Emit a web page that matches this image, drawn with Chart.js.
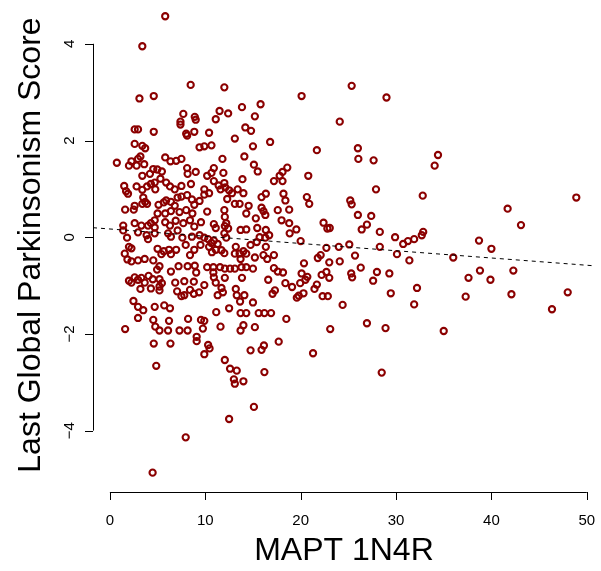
<!DOCTYPE html>
<html>
<head>
<meta charset="utf-8">
<script src="https://cdn.jsdelivr.net/npm/chart.js@4.4.1/dist/chart.umd.min.js"></script>
<style>
  html, body { margin: 0; padding: 0; background: #fff; }
  canvas { display: block; }
</style>
</head>
<body>
<canvas id="scatter" width="601" height="571"></canvas>
<script>
// axis labels and ticks
const xTitle = "MAPT 1N4R";
const yTitle = "Last Global Parkinsonism Score";
const xTicks = [0, 10, 20, 30, 40, 50];
const yTicks = [-4, -2, 0, 2, 4];

// axis limits (R pads the data range by 4%)
const xLimits = [-1.77, 50.85];
const yLimits = [-5.27, 4.78];

// dashed fit line
const fitIntercept = 0.17;
const fitSlope = -0.015;

// MAPT 1N4R values
const xValues = [
  5.8, 3.4, 8.47, 3.1, 4.6, 7.7, 7.4, 8.9, 9.0, 2.6, 2.95, 4.6, 8.0, 8.85,
  12.0, 20.1, 11.5, 12.4, 13.85, 15.8, 11.1, 15.2, 10.4, 14.2, 14.8,
  7.4, 8.1, 2.6, 3.4, 3.7, 9.4, 0.73, 2.0, 2.26, 2.95, 3.2, 2.8, 3.6, 5.8, 6.35, 6.95, 7.5,
  4.55, 4.97, 5.45, 8.1, 8.15, 9.0, 3.4, 4.2, 5.3, 5.9, 4.7, 1.5, 1.7, 1.9, 2.8, 3.4, 3.9,
  4.3, 4.76, 6.3, 6.8, 7.5, 8.5, 3.5, 3.7, 3.4, 3.9, 2.6, 2.5, 1.6, 5.1, 5.65, 5.9, 6.4,
  6.8, 7.1, 7.5, 8.1, 8.6, 8.85, 9.4, 5.0, 5.8, 6.4, 7.3, 8.0, 8.65, 4.3, 4.7, 4.0, 3.3,
  2.6, 1.4, 5.8, 6.3, 6.9, 7.7, 8.4, 8.85, 9.55,
  13.1, 16.8, 9.9, 10.65, 15.0, 14.1, 11.8, 15.1, 15.5, 18.6, 18.1, 17.8, 10.9, 10.65,
  10.2, 11.9, 17.2, 18.1, 13.9, 10.9, 11.4, 11.6, 12.0, 12.1, 9.9, 10.4, 9.9, 12.5, 12.8,
  13.4, 14.0, 12.3, 13.1, 13.6, 15.9, 16.35, 18.2, 18.4, 14.55, 15.9, 16.1, 16.3, 17.6,
  18.8, 10.2, 12.0, 12.05, 12.2, 12.4, 14.3, 15.3, 18.0, 18.8, 19.55, 10.9, 11.1, 13.7,
  14.3, 15.45, 16.35,
  1.4, 1.8, 2.95, 3.85, 4.0, 4.7, 4.7, 6.1, 6.4, 7.1, 7.6, 8.6, 9.4, 2.0, 2.26, 1.56, 1.84,
  2.26, 2.95, 3.65, 4.55, 5.0, 5.4, 5.65, 6.2, 6.4, 6.95, 7.95, 8.4, 8.85, 9.5, 5.2, 4.95,
  7.2, 8.15, 8.9, 9.05, 6.4, 2.0, 2.26, 2.6, 2.95, 3.3, 3.65, 4.06, 4.5, 5.2, 5.45, 5.2,
  6.85, 7.8, 8.8, 3.2, 4.3, 5.2, 7.05, 7.5, 7.8, 8.4, 8.8, 9.35, 2.47, 2.95, 3.5, 4.7, 5.7,
  6.3, 2.95, 4.55, 4.76, 6.2, 8.2, 9.55, 1.6, 5.2, 6.1, 7.3, 8.15,
  9.1, 9.1, 9.75, 4.6, 6.35, 9.9, 4.86, 7.95, 4.48,
  11.6, 13.7, 14.0, 15.2, 10.3, 10.45, 14.75, 15.9, 16.15, 17.7, 12.05, 12.6, 13.3, 13.0,
  13.1, 14.0, 16.2, 15.1, 12.5,
  12.05, 18.85, 9.9, 10.3, 10.65, 10.9, 11.3, 10.4, 11.1, 10.7, 11.7, 12.0, 12.2, 12.0,
  13.2, 13.1, 13.6, 14.0, 14.3, 13.7, 14.75, 15.4, 15.7, 16.3, 16.7, 16.35, 16.1, 16.5,
  17.2, 15.2, 10.2, 10.85, 11.55, 12.05, 12.6, 13.1, 13.8, 14.3, 15.0, 10.85, 10.9, 11.1,
  12.05, 13.85, 17.2, 17.6, 18.15, 18.4, 19.1, 19.8, 16.6, 9.9, 11.7, 11.85, 11.3, 13.2,
  13.3, 14.1, 13.65, 15.0, 17.3, 17.05, 19.95, 19.6, 12.5, 11.15, 13.7, 14.3, 15.6, 16.2,
  16.9, 18.5, 9.9,
  25.35, 29.0, 24.1, 21.7, 26.0, 26.05, 27.65, 34.4, 34.05, 20.8, 27.9, 20.65, 20.9, 25.2,
  25.35, 32.8, 26.0, 27.4, 22.4, 22.8, 23.05, 26.4, 26.95, 28.3, 32.85,
  29.9, 30.75, 31.25, 31.9, 32.7, 20.0, 22.7, 24.0, 25.1, 28.3, 30.1, 31.4, 22.1, 21.8,
  25.7, 23.0, 24.1, 20.35, 26.3, 20.1, 20.7, 20.5, 22.2, 22.7, 23.0, 25.3, 25.4, 28.0,
  27.6, 29.3, 21.7, 21.45, 32.2, 20.3, 22.3, 22.85, 29.45, 24.4, 31.9, 26.95, 28.9, 23.1,
  35.0, 21.3, 28.5,
  48.9, 41.7, 43.1, 38.7, 40.0, 36.0, 37.6, 38.8, 39.9, 42.3, 37.3, 42.1, 48.0, 46.35
];

// Last Global Parkinsonism Score values, same order
const yValues = [
  4.57, 3.95, 3.15, 2.87, 2.92, 2.55, 2.39, 2.49, 2.43, 2.23, 2.23, 2.18, 2.14, 2.18,
  3.10, 2.92, 2.61, 2.56, 2.69, 2.75, 2.44, 2.50, 2.16, 2.27, 2.20,
  2.33, 2.10, 1.93, 1.89, 1.84, 1.86, 1.54, 1.48, 1.57, 1.62, 1.67, 1.48, 1.51, 1.65, 1.57, 1.58, 1.62,
  1.41, 1.40, 1.36, 1.43, 1.31, 1.35, 1.27, 1.31, 1.21, 1.13, 1.13, 1.06, 0.95, 0.90, 1.05, 0.98, 1.05,
  1.10, 0.99, 1.05, 0.99, 1.06, 1.10, 0.82, 0.73, 0.69, 0.69, 0.65, 0.57, 0.57, 0.67, 0.72, 0.76, 0.73,
  0.65, 0.82, 0.84, 0.87, 0.78, 0.67, 0.75, 0.49, 0.49, 0.54, 0.52, 0.56, 0.49, 0.29, 0.35, 0.24, 0.24,
  0.29, 0.24, 0.31, 0.24, 0.34, 0.29, 0.35, 0.22, 0.31,
  2.04, 1.97, 1.88, 1.90, 1.88, 1.67, 1.62, 1.50, 1.36, 1.44, 1.35, 1.27, 1.43, 1.33,
  1.27, 1.33, 1.16, 1.16, 1.20, 1.16, 1.07, 0.99, 1.12, 1.03, 0.99, 0.91, 0.88, 0.97, 0.91,
  0.99, 0.91, 0.79, 0.69, 0.69, 0.83, 0.90, 0.90, 0.76, 0.65, 0.61, 0.54, 0.46, 0.56,
  0.57, 0.53, 0.56, 0.42, 0.29, 0.18, 0.49, 0.39, 0.35, 0.29, 0.16, 0.27, 0.19, 0.15,
  0.16, 0.19, 0.15,
  0.14, -0.01, 0.10, 0.04, -0.04, 0.20, 0.08, 0.08, 0.01, 0.14, -0.01, 0.01, 0.04, -0.20, -0.23, -0.34, -0.46,
  -0.50, -0.48, -0.45, -0.48, -0.24, -0.35, -0.29, -0.26, -0.35, -0.26, -0.16, -0.37, -0.26, -0.16, -0.60, -0.67,
  -0.60, -0.60, -0.59, -0.73, -0.71, -0.90, -0.94, -0.83, -0.88, -0.84, -0.94, -0.80, -0.87, -0.87, -0.95, -1.02,
  -0.94, -0.91, -0.92, -1.07, -1.06, -1.10, -1.12, -1.22, -1.20, -1.09, -1.17, -1.14, -1.32, -1.44, -1.51, -1.44, -1.41,
  -1.47, -1.67, -1.71, -1.85, -1.73, -1.69, -1.71, -1.90, -1.93, -1.93, -1.93, -1.93,
  -2.06, -2.15, -1.89, -2.20, -2.20, -2.42, -2.66, -4.14, -4.87,
  -1.85, -1.93, -1.82, -1.86, -2.23, -2.30, -2.34, -2.33, -2.24, -2.16, -2.54, -2.72, -2.76, -2.94,
  -3.03, -2.98, -2.79, -3.51, -3.76,
  0.23, 0.08, -0.01, -0.04, -0.12, -0.07, -0.14, -0.20, -0.26, -0.31, -0.27, -0.33, -0.01, 0.08,
  -0.20, -0.34, -0.34, -0.29, -0.34, -0.45, -0.16, -0.10, 0.00, -0.01, 0.04, -0.20, -0.37, -0.45,
  -0.37, -0.42, -0.62, -0.62, -0.62, -0.65, -0.65, -0.65, -0.62, -0.62, -0.65, -0.73, -0.83, -0.94,
  -0.84, -0.84, -0.64, -0.71, -0.73, -0.95, -1.03, -1.21, -0.88, -0.99, -1.05, -1.14, -1.20, -1.07,
  -1.20, -1.20, -1.33, -1.35, -1.10, -1.17, -0.95, -1.25, -1.47, -1.55, -1.57, -1.57, -1.57, -1.57,
  -1.57, -1.69, -1.73,
  3.13, 2.89, 2.39, 1.80, 1.84, 1.62, 1.59, 1.70, 1.48, 1.27, 0.99, 0.83, 0.69, 0.76,
  0.68, 0.86, 0.46, 0.44, 0.30, 0.18, 0.19, 0.16, 0.26, 0.11, 0.11,
  0.00, -0.14, -0.08, -0.04, 0.04, -0.08, -0.22, -0.20, -0.15, -0.20, -0.35, -0.48, -0.37, -0.43,
  -0.38, -0.52, -0.50, -0.54, -0.63, -0.75, -0.82, -0.88, -0.78, -0.72, -0.84, -0.75, -0.83, -0.72,
  -0.90, -0.75, -0.98, -1.07, -1.05, -1.16, -1.22, -1.22, -1.16, -1.40, -1.39, -1.78, -1.88, -1.90,
  -1.94, -2.40, -2.80,
  0.82, 0.59, 0.25, -0.07, -0.24, -0.42, -0.84, -0.69, -0.88, -0.69, -1.23, -1.18, -1.14, -1.49
];

const points = xValues.map((x, i) => ({ x: x, y: yValues[i] }));
const fitLine = xLimits.map(x => ({ x: x, y: fitIntercept + fitSlope * x }));

function tickText(v) {
  return v < 0 ? "\u2212" + Math.abs(v) : String(v);
}

// R style axes: lines only over the tick range, with outward ticks
const rAxes = {
  id: "rAxes",
  afterDraw(chart) {
    const ctx = chart.ctx;
    const xs = chart.scales.x;
    const ys = chart.scales.y;
    const area = chart.chartArea;
    const axisY = area.bottom;
    const axisX = area.left;

    ctx.save();
    ctx.strokeStyle = "#000";
    ctx.lineWidth = 1;
    ctx.fillStyle = "#000";

    // x axis
    const x0 = xs.getPixelForValue(xTicks[0]);
    const x1 = xs.getPixelForValue(xTicks[xTicks.length - 1]);
    ctx.beginPath();
    ctx.moveTo(x0, axisY + 0.5);
    ctx.lineTo(x1, axisY + 0.5);
    xTicks.forEach(v => {
      const px = Math.round(xs.getPixelForValue(v)) + 0.5;
      ctx.moveTo(px, axisY);
      ctx.lineTo(px, axisY + 8);
    });
    ctx.stroke();

    ctx.font = "15px 'Liberation Sans', Arial, sans-serif";
    ctx.textAlign = "center";
    ctx.textBaseline = "middle";
    xTicks.forEach(v => {
      ctx.fillText(tickText(v), xs.getPixelForValue(v), axisY + 29);
    });

    // y axis
    const y0 = ys.getPixelForValue(yTicks[0]);
    const y1 = ys.getPixelForValue(yTicks[yTicks.length - 1]);
    ctx.beginPath();
    ctx.moveTo(axisX + 0.5, y0);
    ctx.lineTo(axisX + 0.5, y1);
    yTicks.forEach(v => {
      const py = Math.round(ys.getPixelForValue(v)) + 0.5;
      ctx.moveTo(axisX, py);
      ctx.lineTo(axisX - 8, py);
    });
    ctx.stroke();

    yTicks.forEach(v => {
      ctx.save();
      ctx.translate(axisX - 23, ys.getPixelForValue(v));
      ctx.rotate(-Math.PI / 2);
      ctx.fillText(tickText(v), 0, 0);
      ctx.restore();
    });

    // axis titles
    ctx.font = "32px 'Liberation Sans', Arial, sans-serif";
    ctx.fillText(xTitle, (area.left + area.right) / 2, axisY + 59);
    ctx.save();
    ctx.translate(31, (area.top + area.bottom) / 2 - 4);
    ctx.rotate(-Math.PI / 2);
    ctx.fillText(yTitle, 0, 0);
    ctx.restore();

    ctx.restore();
  }
};

new Chart(document.getElementById("scatter"), {
  type: "scatter",
  data: {
    datasets: [
      {
        type: "line",
        data: fitLine,
        borderColor: "#000",
        borderWidth: 1,
        borderDash: [4, 4],
        pointRadius: 0,
        fill: false
      },
      {
        data: points,
        pointStyle: "circle",
        pointRadius: 3.1,
        pointBorderWidth: 2.1,
        pointBorderColor: "#8b0000",
        pointBackgroundColor: "rgba(0,0,0,0)",
        showLine: false
      }
    ]
  },
  options: {
    responsive: false,
    animation: false,
    devicePixelRatio: 1,
    layout: { padding: { left: 93, right: 3, top: 0, bottom: 79 } },
    scales: {
      x: { type: "linear", min: xLimits[0], max: xLimits[1], display: false },
      y: { type: "linear", min: yLimits[0], max: yLimits[1], display: false }
    },
    plugins: {
      legend: { display: false },
      tooltip: { enabled: false }
    }
  },
  plugins: [rAxes]
});
</script>
</body>
</html>
